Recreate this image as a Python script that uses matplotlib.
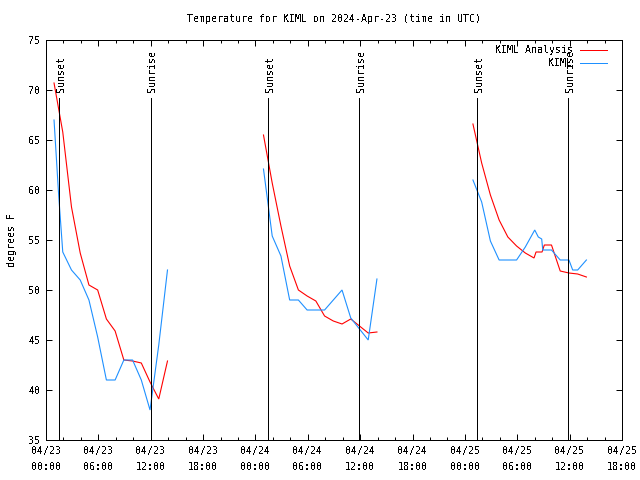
import matplotlib
matplotlib.use("Agg")
import matplotlib.pyplot as plt

# ---------------- data (hours since 04/23 00:00 UTC) ----------------
red_t1 = [0.92, 1.92, 2.92, 3.92, 4.92, 5.92, 6.92, 7.92, 8.92, 9.92, 10.92, 11.92, 12.92, 13.92]
red_v1 = [70.7, 65.8, 58.3, 53.7, 50.5, 50.0, 47.1, 45.9, 43.0, 42.9, 42.7, 40.8, 39.1, 42.9]
blue_t1 = [0.92, 1.45, 1.92, 2.92, 3.92, 4.92, 5.92, 6.92, 7.92, 8.92, 9.92, 10.92, 11.92, 12.92, 13.92]
blue_v1 = [67.0, 59.5, 53.8, 52.0, 51.0, 49.0, 45.3, 41.0, 41.0, 43.0, 43.0, 41.0, 38.0, 44.5, 52.0]

red_t2 = [24.92, 25.92, 26.92, 27.92, 28.92, 29.92, 30.92, 31.92, 32.92, 33.92, 34.92, 35.92, 36.92, 37.92]
red_v2 = [65.5, 60.7, 56.4, 52.4, 50.0, 49.4, 48.9, 47.4, 46.9, 46.6, 47.1, 46.4, 45.7, 45.8]
blue_t2 = [24.92, 25.92, 26.92, 27.92, 28.92, 29.92, 30.92, 31.92, 32.92, 33.92, 34.92, 35.92, 36.92, 37.92]
blue_v2 = [62.1, 55.4, 53.4, 49.0, 49.0, 48.0, 48.0, 48.0, 49.0, 50.0, 47.2, 46.1, 45.0, 51.1]

red_t3 = [48.92, 49.92, 50.92, 51.92, 52.92, 53.92, 54.92, 55.92, 56.15, 56.84, 57.1, 57.92, 58.92, 59.92, 60.92, 61.92]
red_v3 = [66.6, 62.7, 59.5, 57.0, 55.3, 54.4, 53.7, 53.2, 53.8, 53.8, 54.5, 54.5, 51.9, 51.7, 51.6, 51.3]
blue_t3 = [48.92, 49.92, 50.92, 51.92, 52.92, 53.92, 54.92, 56.0, 56.41, 56.8, 56.92, 57.92, 58.92, 59.92, 60.35, 60.92, 61.92]
blue_v3 = [61.0, 58.8, 54.9, 53.0, 53.0, 53.0, 54.3, 56.0, 55.3, 55.1, 54.0, 54.0, 53.0, 53.0, 52.0, 52.0, 53.0]

sunset_t = [1.52, 25.47, 49.42]
sunrise_t = [12.03, 35.9, 59.85]

xtick_pos = [0, 6, 12, 18, 24, 30, 36, 42, 48, 54, 60, 66]
xtick_labels = ["04/23\n00:00", "04/23\n06:00", "04/23\n12:00", "04/23\n18:00",
                "04/24\n00:00", "04/24\n06:00", "04/24\n12:00", "04/24\n18:00",
                "04/25\n00:00", "04/25\n06:00", "04/25\n12:00", "04/25\n18:00"]
ytick_pos = [35, 40, 45, 50, 55, 60, 65, 70, 75]

RED = "#ff0000"
BLUE = "#1e90ff"

plt.rcParams["font.family"] = ["DejaVu Sans Mono"]
plt.rcParams["lines.antialiased"] = False
plt.rcParams["text.antialiased"] = False

fig = plt.figure(figsize=(6.4, 4.8), dpi=100)
ax = fig.add_axes([46 / 640, 40 / 480, 576 / 640, 400 / 480])

kw = dict(lw=0.8, antialiased=True, solid_joinstyle="miter")
ax.plot(red_t1, red_v1, color=RED, **kw)
ax.plot(blue_t1, blue_v1, color=BLUE, **kw)
ax.plot(red_t2, red_v2, color=RED, **kw)
ax.plot(blue_t2, blue_v2, color=BLUE, **kw)
ax.plot(red_t3, red_v3, color=RED, **kw)
ax.plot(blue_t3, blue_v3, color=BLUE, **kw)

# legend handles: crisp 1-px lines like the data lines in the reference
from matplotlib.lines import Line2D
handles = [Line2D([], [], color=RED, lw=0.72, antialiased=False),
           Line2D([], [], color=BLUE, lw=0.72, antialiased=False)]

for t in sunset_t:
    ax.axvline(t, ymin=0, ymax=0.854, color="black", lw=0.72)
    ax.text(t + 0.2, 0.871, "Sunset", rotation=90, ha="center", va="bottom",
            transform=ax.get_xaxis_transform(), fontsize=7.2)
for t in sunrise_t:
    ax.axvline(t, ymin=0, ymax=0.854, color="black", lw=0.72)
    ax.text(t + 0.2, 0.871, "Sunrise", rotation=90, ha="center", va="bottom",
            transform=ax.get_xaxis_transform(), fontsize=7.2)

ax.set_xlim(0, 66)
ax.set_ylim(35, 75)
ax.set_xticks(xtick_pos)
ax.set_xticklabels(xtick_labels, fontsize=7.2, linespacing=1.75)
ax.set_xticks(range(0, 67, 2), minor=True)
ax.set_yticks(ytick_pos)
ax.set_yticklabels([str(v) for v in ytick_pos], fontsize=7.2)
ax.tick_params(which="both", direction="in", top=True, right=True, width=0.72)
ax.tick_params(which="major", length=4.5, pad=4)
ax.tick_params(which="minor", length=2.2)
for s in ax.spines.values():
    s.set_linewidth(0.72)

ax.set_title("Temperature for KIML on 2024-Apr-23 (time in UTC)", fontsize=7.2, pad=13)
ax.set_ylabel("degrees F", fontsize=7.2, labelpad=8)

ax.legend(handles, ["KIML Analysis", "KIML"], loc="upper right",
          bbox_to_anchor=(0.978, 0.992), frameon=False,
          markerfirst=False, fontsize=7.2, handlelength=2.7, handletextpad=0.75,
          labelspacing=0.3, borderaxespad=0.0, borderpad=0.2)

fig.savefig("out.png", dpi=100)
